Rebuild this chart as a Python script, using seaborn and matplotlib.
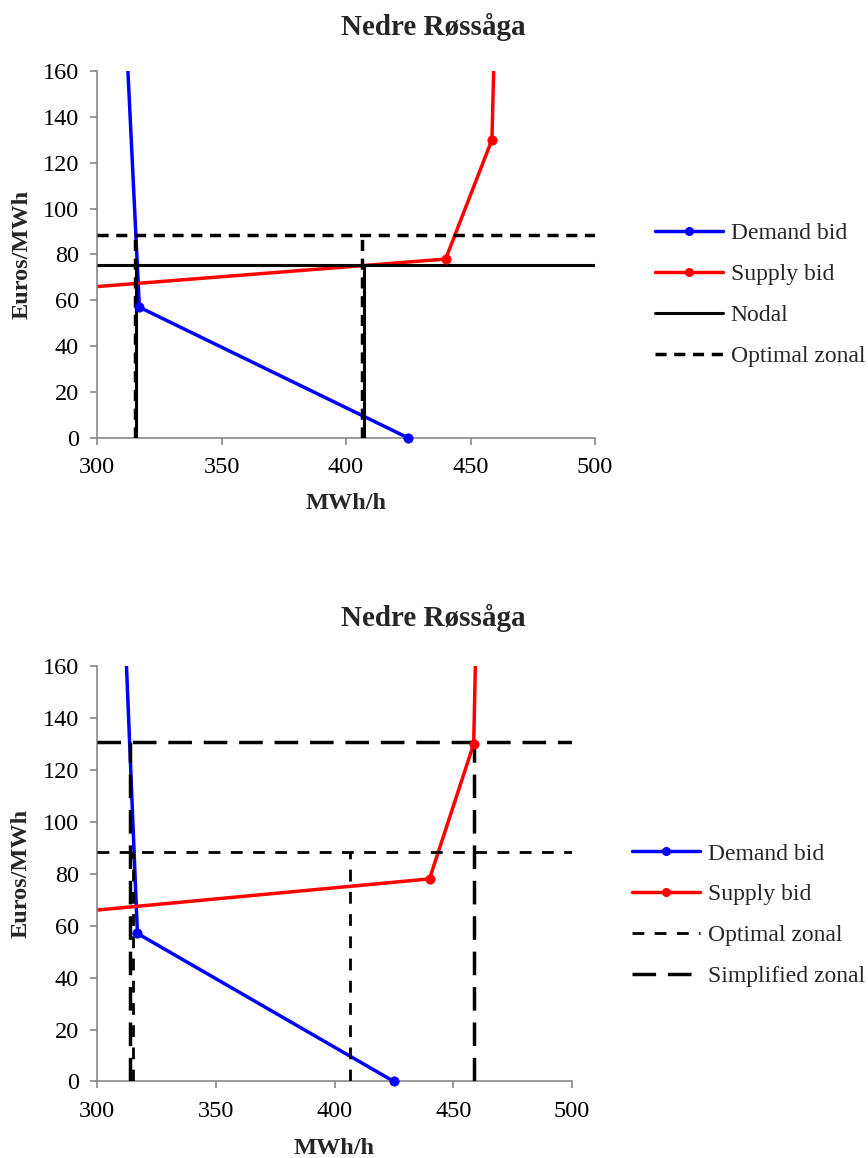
"""
Nedre Røssåga - demand/supply bids with nodal and zonal price lines.
Two stacked panels, Excel-like look, saved to out.png.
"""

import matplotlib
matplotlib.use("Agg")
import matplotlib.pyplot as plt
from matplotlib.lines import Line2D
import seaborn as sns


# ---------- Data ----------
TITLE = "Nedre Røssåga"
X_LABEL = "MWh/h"
Y_LABEL = "Euros/MWh"
X_TICKS = [300, 350, 400, 450, 500]
Y_TICKS = [0, 20, 40, 60, 80, 100, 120, 140, 160]

# bid curves (same in both panels)
demand_mwh = [312.4, 317.0, 425.0]
demand_price = [160, 57, 0]
supply_mwh = [300.0, 440.0, 458.6, 459.3]
supply_price = [66, 78, 130, 160]

# panel 1: nodal and optimal zonal solutions
nodal_price = 75.2
nodal_mwh = [315.8, 407.4]
optimal_price = 88.4
optimal_mwh = [315.3, 406.6]

# panel 2: optimal and simplified zonal solutions
simplified_price = 130.6
simplified_mwh = [313.8, 458.7]

# ---------- Style ----------
BLUE = "#0000FF"
RED = "#FF0000"
GREY = "#898989"
FS = 17.5
LEG_FS = 17

sns.set_theme(style="ticks")
plt.rcParams["font.family"] = ["Liberation Serif", "DejaVu Serif"]
plt.rcParams["lines.scale_dashes"] = False

DASH_OPT_TOP = (0, (8, 5.5))
DASH_OPT_BOT = (0, (8.5, 7.5))
DASH_SIMPLE = (0, (17, 8.5))


def draw_bids(ax):
    sns.lineplot(x=demand_mwh, y=demand_price, sort=False, estimator=None,
                 color=BLUE, lw=2.5, ax=ax, zorder=2)
    sns.lineplot(x=supply_mwh, y=supply_price, sort=False, estimator=None,
                 color=RED, lw=2.5, ax=ax, zorder=2)
    # markers only on the visible break points
    sns.scatterplot(x=demand_mwh[1:], y=demand_price[1:], color=BLUE, s=45,
                    edgecolor=BLUE, ax=ax, zorder=4, clip_on=False)
    sns.scatterplot(x=supply_mwh[1:3], y=supply_price[1:3], color=RED, s=45,
                    edgecolor=RED, ax=ax, zorder=4, clip_on=False)


def price_lines(ax, price, mwh, ls, lw):
    ax.hlines(price, X_TICKS[0], X_TICKS[-1], colors="black",
              linestyles=[ls], lw=lw, zorder=3)
    ax.vlines(mwh, 0, price, colors="black", linestyles=[ls], lw=lw, zorder=3)


def style_axes(ax, xlabel_y, ylabel_x):
    ax.set_xlim(X_TICKS[0], X_TICKS[-1])
    ax.set_ylim(Y_TICKS[0], Y_TICKS[-1])
    ax.set_xticks(X_TICKS)
    ax.set_yticks(Y_TICKS)
    sns.despine(ax=ax)
    for side in ["left", "bottom"]:
        ax.spines[side].set_color(GREY)
        ax.spines[side].set_linewidth(1.2)
    ax.tick_params(axis="both", direction="out", length=5, width=1.2,
                   color=GREY, labelsize=FS, labelcolor="black")
    ax.tick_params(axis="x", pad=9)
    ax.tick_params(axis="y", pad=8)
    ax.set_xlabel(X_LABEL, fontsize=FS, fontweight="bold")
    ax.set_ylabel(Y_LABEL, fontsize=FS, fontweight="bold")
    ax.xaxis.set_label_coords(0.5, xlabel_y)
    ax.yaxis.set_label_coords(ylabel_x, 0.5)
    ax.grid(False)


def bid_handles():
    return [
        Line2D([], [], color=BLUE, lw=2.5, marker="o", ms=5.5),
        Line2D([], [], color=RED, lw=2.5, marker="o", ms=5.5),
    ]


fig = plt.figure(figsize=(8.68, 11.58), dpi=100)
ax1 = fig.add_axes([0.1118, 0.6218, 0.5737, 0.3169])
ax2 = fig.add_axes([0.1118, 0.0661, 0.5472, 0.3588])

# ---------- Panel 1 ----------
draw_bids(ax1)
price_lines(ax1, nodal_price, nodal_mwh, "-", 2.2)
price_lines(ax1, optimal_price, optimal_mwh, DASH_OPT_TOP, 2.5)
style_axes(ax1, -0.15, -0.13)

handles1 = bid_handles() + [
    Line2D([], [], color="black", lw=2.2),
    Line2D([], [], color="black", lw=2.5, ls=DASH_OPT_TOP),
]
ax1.legend(handles1, ["Demand bid", "Supply bid", "Nodal", "Optimal zonal"],
           loc="upper left", bbox_to_anchor=(0.7546, 0.8075),
           bbox_transform=fig.transFigure, frameon=False, fontsize=LEG_FS,
           handlelength=2.9, handletextpad=0.3, labelspacing=0.82,
           borderpad=0, borderaxespad=0)

# ---------- Panel 2 ----------
draw_bids(ax2)
price_lines(ax2, optimal_price, optimal_mwh, DASH_OPT_BOT, 2.0)
price_lines(ax2, simplified_price, simplified_mwh, DASH_SIMPLE, 2.5)
style_axes(ax2, -0.137, -0.137)

handles2 = bid_handles() + [
    Line2D([], [], color="black", lw=2.0, ls=DASH_OPT_BOT),
    Line2D([], [], color="black", lw=2.5, ls=DASH_SIMPLE),
]
ax2.legend(handles2, ["Demand bid", "Supply bid", "Optimal zonal",
                      "Simplified zonal"],
           loc="upper left", bbox_to_anchor=(0.7281, 0.2720),
           bbox_transform=fig.transFigure, frameon=False, fontsize=LEG_FS,
           handlelength=2.9, handletextpad=0.3, labelspacing=0.82,
           borderpad=0, borderaxespad=0)

# titles sit over the plot + legend block
fig.text(0.499, 1 - 27 / 1158, TITLE, ha="center", va="center",
         fontsize=21, fontweight="bold")
fig.text(0.499, 1 - 618 / 1158, TITLE, ha="center", va="center",
         fontsize=21, fontweight="bold")

fig.savefig("out.png", dpi=100)
plt.close(fig)
